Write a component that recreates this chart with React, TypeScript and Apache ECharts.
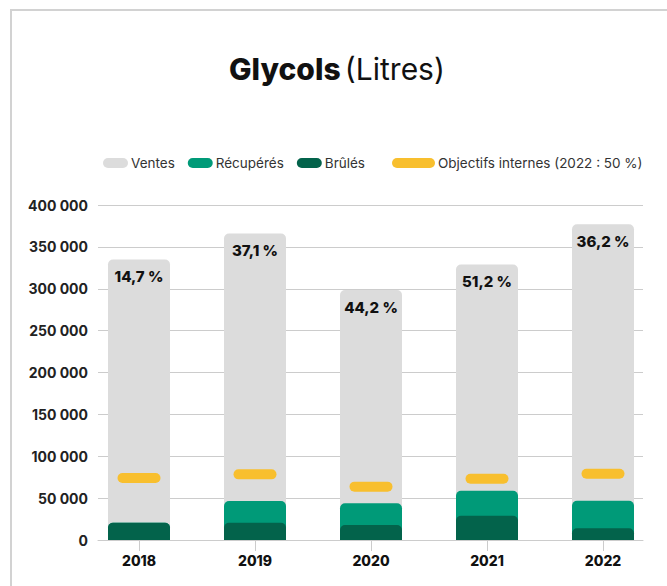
import React, { useEffect, useRef } from "react";
import * as echarts from "echarts";

const years = ["2018", "2019", "2020", "2021", "2022"];
const ventes = [335000, 366000, 298500, 329000, 377000];
const recuperes = [20700, 46600, 43800, 58900, 46900];
const brules = [20700, 20700, 17900, 29000, 14000];
const objectifs = [74000, 78400, 63700, 73200, 79200];
const pourcentages = ["14,7 %", "37,1 %", "44,2 %", "51,2 %", "36,2 %"];

const FONT = "Inter, 'Noto Sans', sans-serif";
const PILL_SMALL = "path://M5,0H20A5,5,0,0,1,20,10H5A5,5,0,0,1,5,0Z";
const PILL_LARGE = "path://M5,0H38A5,5,0,0,1,38,10H5A5,5,0,0,1,5,0Z";

export default function App() {
  const ref = useRef<HTMLDivElement>(null);
  useEffect(() => {
    if (!ref.current) return;
    const chart = echarts.init(ref.current, null, { renderer: "svg" });
    const top = 205;
    const bottom = 46;
    chart.setOption({
      animation: false,
      backgroundColor: "#ffffff",
      textStyle: { fontFamily: FONT },
      title: {
        text: "{b|Glycols} {n|(Litres)}",
        left: 224,
        top: 49,
        textStyle: {
          rich: {
            b: { fontSize: 30, fontWeight: 800, color: "#111", fontFamily: FONT },
            n: { fontSize: 30, fontWeight: "normal", color: "#111", fontFamily: FONT },
          },
        },
      },
      graphic: [
        {
          type: "polyline",
          shape: { points: [[11, 586], [11, 10], [667, 10]] },
          style: { stroke: "#d2d2d2", lineWidth: 2, fill: "none" },
          silent: true,
        },
      ],
      legend: [
        {
          left: 98,
          top: 151,
          itemWidth: 25,
          itemHeight: 10,
          itemGap: 13,
          textStyle: { fontSize: 13.5, color: "#333", fontFamily: FONT, padding: [0, 0, 0, -2] },
          data: [
            { name: "Ventes", icon: PILL_SMALL },
            { name: "Récupérés", icon: PILL_SMALL },
            { name: "Brûlés", icon: PILL_SMALL },
          ],
        },
        {
          left: 387,
          top: 151,
          itemWidth: 43,
          itemHeight: 10,
          textStyle: { fontSize: 13.5, color: "#333", fontFamily: FONT, padding: [0, 0, 0, -2] },
          data: [{ name: "Objectifs internes (2022 : 50 %)", icon: PILL_LARGE }],
        },
      ],
      grid: [
        { left: 98, right: 24, top, bottom },
        { left: 81, right: 6, top, bottom },
      ],
      xAxis: [
        {
          type: "category",
          gridIndex: 0,
          data: years,
          axisLine: { show: true, lineStyle: { color: "#cccccc", width: 1 } },
          axisTick: { show: false },
          axisLabel: { show: false },
        },
        {
          type: "category",
          gridIndex: 1,
          data: years,
          axisLine: { show: false },
          axisTick: { show: true, alignWithLabel: true, length: 11, lineStyle: { color: "#cccccc" } },
          axisLabel: {
            margin: 13,
            fontSize: 14,
            fontWeight: 800,
            color: "#111",
            fontFamily: FONT,
          },
        },
      ],
      yAxis: [
        {
          type: "value",
          gridIndex: 0,
          min: 0,
          max: 400000,
          interval: 50000,
          axisLine: { show: false },
          axisTick: { show: false },
          splitLine: { lineStyle: { color: "#cccccc", width: 1 } },
          axisLabel: {
            margin: 10,
            fontSize: 14,
            fontWeight: 700,
            color: "#222",
            fontFamily: FONT,
            formatter: (v: number) => v.toLocaleString("fr-FR").replace(/\s/g, " "),
          },
        },
        {
          type: "value",
          gridIndex: 1,
          min: 0,
          max: 400000,
          interval: 50000,
          show: false,
          splitLine: { show: false },
        },
      ],
      series: [
        {
          name: "Ventes",
          type: "bar",
          xAxisIndex: 1,
          yAxisIndex: 1,
          data: ventes,
          barWidth: 62,
          barGap: "-100%",
          itemStyle: { color: "#dcdcdc", borderRadius: [5, 5, 0, 0] },
          label: {
            show: true,
            position: "insideTop",
            distance: 10,
            fontSize: 15,
            fontWeight: 800,
            color: "#111",
            fontFamily: FONT,
            formatter: (p: any) => pourcentages[p.dataIndex],
          },
          z: 1,
        },
        {
          name: "Récupérés",
          type: "bar",
          xAxisIndex: 1,
          yAxisIndex: 1,
          data: recuperes,
          barWidth: 62,
          barGap: "-100%",
          itemStyle: { color: "#009a78", borderRadius: [5, 5, 0, 0] },
          z: 2,
        },
        {
          name: "Brûlés",
          type: "bar",
          xAxisIndex: 1,
          yAxisIndex: 1,
          data: brules,
          barWidth: 62,
          barGap: "-100%",
          itemStyle: { color: "#03634b", borderRadius: [5, 5, 0, 0] },
          z: 3,
        },
        {
          name: "Objectifs internes (2022 : 50 %)",
          type: "scatter",
          xAxisIndex: 1,
          yAxisIndex: 1,
          data: objectifs,
          symbol: PILL_LARGE,
          symbolSize: [43, 10],
          itemStyle: { color: "#f8bf2e", opacity: 1 },
          z: 4,
        },
      ],
    });
    return () => chart.dispose();
  }, []);
  return (
    <div
      ref={ref}
      style={{ position: "absolute", left: 0, top: 0, width: 667, height: 586 }}
    />
  );
}
